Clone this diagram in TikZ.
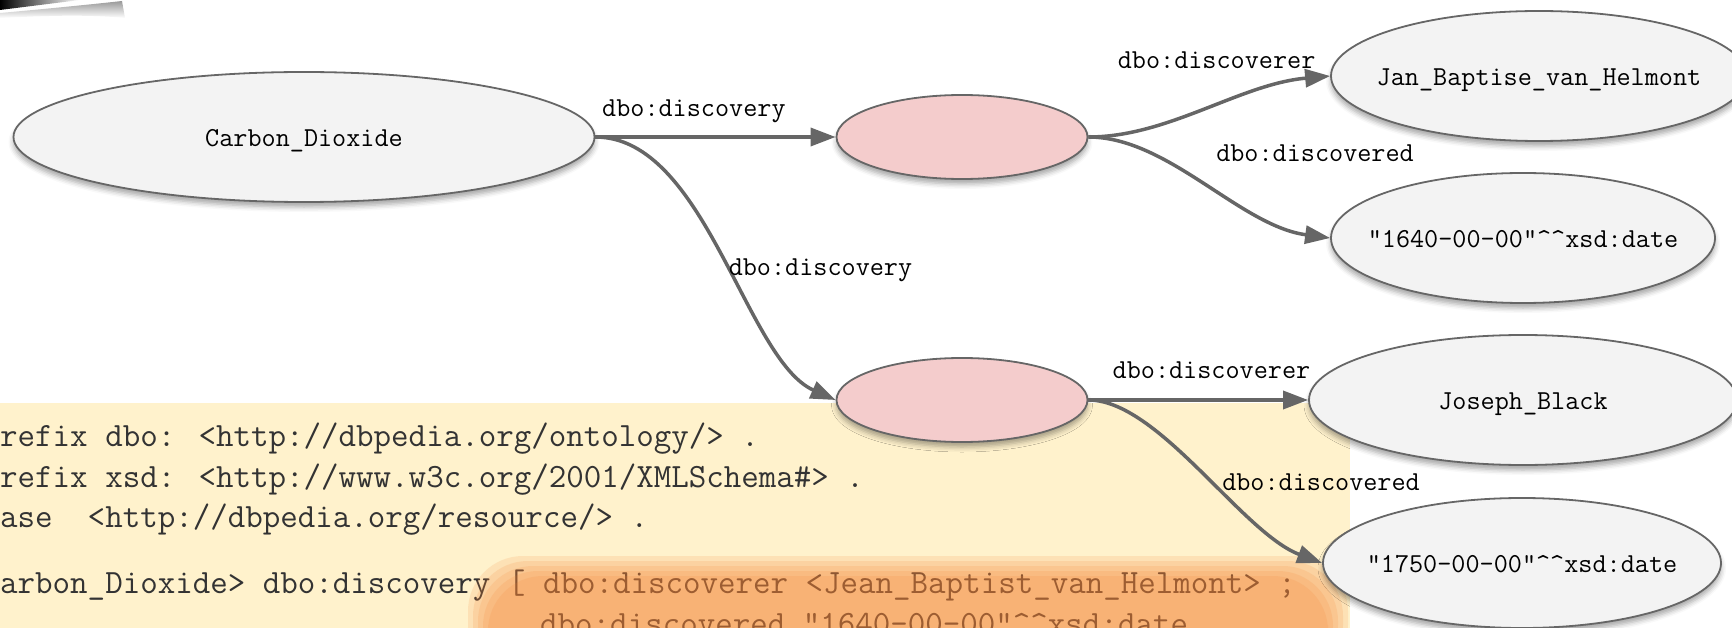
\documentclass[tikz,border=0pt]{standalone}
\usetikzlibrary{shapes.geometric,arrows.meta,shadows.blur}
\definecolor{linegray}{HTML}{666666}
\definecolor{nodegray}{HTML}{F3F3F3}
\definecolor{blankpink}{HTML}{F4CCCC}
\definecolor{codeyellow}{HTML}{FFF2CC}
\definecolor{blobfill}{RGB}{245,130,50}
\newcommand\lblfont{\ttfamily\fontsize{27.4}{32}\selectfont}
\newcommand\codefont{\ttfamily\fontsize{34}{40}\selectfont}
\tikzset {>={Triangle[length=25pt,width=18pt]}}
\tikzset{
  res/.style={ellipse,draw=linegray,line width=1.8pt,fill=nodegray,inner sep=0pt,
    minimum height=130pt,
    blur shadow={shadow xshift=0pt,shadow yshift=-5pt,shadow blur radius=5pt,shadow opacity=35}},
  blank/.style={res,fill=blankpink,minimum width=251pt,minimum height=84pt},
  rel/.style={draw=linegray,line width=3.5pt,->},
  lbl/.style={font=\lblfont,inner sep=0pt},
  reslbl/.style={lbl,text height=19pt,text depth=0pt},
  code/.style={font=\codefont,inner sep=0pt,anchor=base west,text=black!80}
}
\begin{document}
\begin{tikzpicture}[x=1pt,y=-1pt]
\clip (0,0) rectangle (1732,628);
% corner of a picture, top left
\shade[left color=black,right color=white] (0,0) -- (80,0) -- (0,10) -- cycle;
\shade[top color=gray!80,bottom color=white] (0,13) .. controls (45,9) and (95,4) .. (122,1)
  -- (125,18) .. controls (85,14) and (40,16) .. (0,18) -- cycle;

% turtle snippet
\fill[codeyellow] (0,403) rectangle (1350,628);
\node[code] (l1) at (0,446) {refix dbo: <http://dbpedia.org/ontology/> .};
\node[code] (l2) at (0,487) {refix xsd: <http://www.w3c.org/2001/XMLSchema\#> .};
\node[code] (l3) at (0,527) {ase\ \ <http://dbpedia.org/resource/> .};
\node[code] (l4) at (0,593) {arbon\_Dioxide> dbo:discovery [ dbo:discoverer <Jean\_Baptist\_van\_Helmont> ;};
\node[code] (l5) at (540,634) {dbo:discovered "1640-00-00"\textasciicircum\textasciicircum xsd:date};
\foreach \d in {0,5,...,20}
  \fill[blobfill,opacity=.15,rounded corners=55pt] (468+\d,556+\d) rectangle (1348-\d,680);

% graph
\node[res,minimum width=581pt,label={[reslbl]center:Carbon\_Dioxide}] (carbon) at (304,137) {};
\node[blank] (disc1) at (962,137) {};
\node[blank] (disc2) at (962,400) {};
\node[res,minimum width=416pt,label={[reslbl]center:Jan\_Baptise\_van\_Helmont}] (helmont) at (1539,76) {};
\node[res,minimum width=384pt,label={[reslbl]center:"1640-00-00"\textasciicircum\textasciicircum xsd:date}] (date1) at (1523,238) {};
\node[res,minimum width=428pt,label={[reslbl]center:Joseph\_Black}] (black) at (1523,400) {};
\node[res,minimum width=398pt,label={[reslbl]center:"1750-00-00"\textasciicircum\textasciicircum xsd:date}] (date2) at (1522,563) {};

\draw[rel] (carbon.east) -- node[lbl,above=13pt,pos=.41] {dbo:discovery} (disc1.west);
\draw[rel] (carbon.east) .. controls +(110,0) and +(-90,-40) ..
  node[lbl,pos=.5,anchor=west,xshift=4pt,yshift=-17pt] {dbo:discovery} (disc2.west);
\draw[rel] (disc1.east) .. controls +(80,0) and +(-90,8) ..
  node[lbl,at end,anchor=south east,xshift=-13pt,yshift=6pt] {dbo:discoverer} (helmont.west);
\draw[rel] (disc1.east) .. controls +(80,0) and +(-90,-12) ..
  node[lbl,pos=.5,anchor=south west,xshift=9pt,yshift=20pt] {dbo:discovered} (date1.west);
\draw[rel] (disc2.east) -- node[lbl,above=20pt,pos=.56] {dbo:discoverer} (black.west);
\draw[rel] (disc2.east) .. controls +(70,0) and +(-80,-30) ..
  node[lbl,pos=.5,anchor=south west,xshift=19pt,yshift=-22pt] {dbo:discovered} (date2.west);

\end{tikzpicture}
\end{document}
